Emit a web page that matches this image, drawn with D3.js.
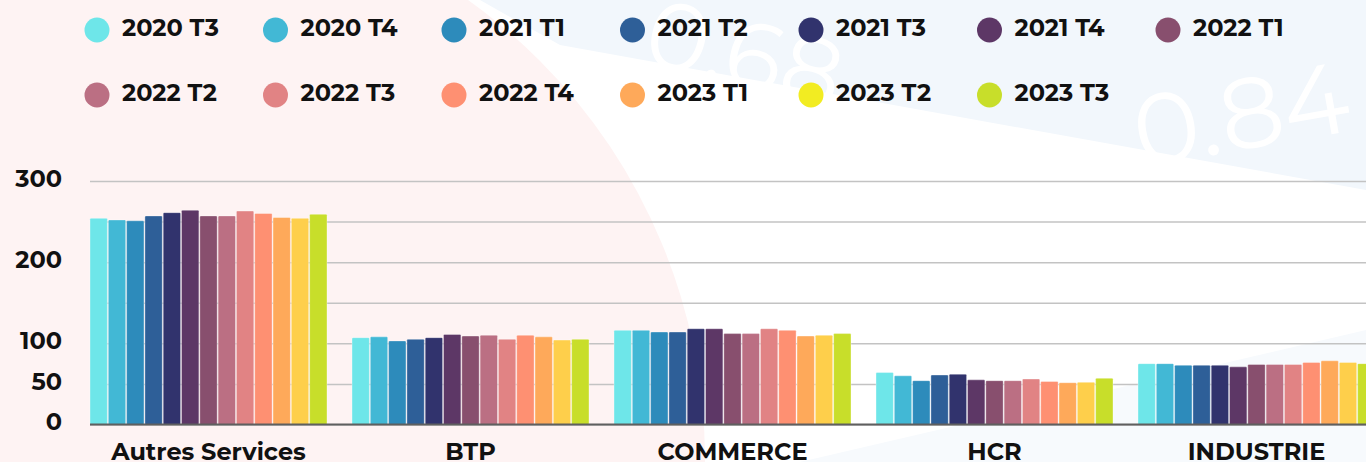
<!DOCTYPE html>
<html>
<head>
<meta charset="utf-8">
<script src="https://cdn.jsdelivr.net/npm/d3@7"></script>
<style>
  body { margin: 0; overflow: hidden; background: #fff; }
  text { font-family: Montserrat, "DejaVu Sans", sans-serif; font-weight: 700; fill: #111; }
</style>
</head>
<body>
<div id="chart"></div>
<script>
// data
var categories = ["Autres Services", "BTP", "COMMERCE", "HCR", "INDUSTRIE"];
var periods = ["2020 T3", "2020 T4", "2021 T1", "2021 T2", "2021 T3", "2021 T4", "2022 T1",
               "2022 T2", "2022 T3", "2022 T4", "2023 T1", "2023 T2", "2023 T3"];
var colors = ["#6ee6e9", "#42b8d5", "#2d8bbb", "#2e5f98", "#31336d", "#5d3766", "#884f6e",
              "#bb6f83", "#e18384", "#fe9072", "#fea95a", "#fecf4b", "#c8de2a"];
var legendColors = colors.slice();
legendColors[11] = "#f2ec22";

var autresServices = [254, 252, 251, 257, 261, 264, 257, 257, 263, 260, 255, 254, 259];
var btp            = [107, 108, 103, 105, 107, 111, 109, 110, 105, 110, 108, 104, 105];
var commerce       = [116, 116, 114, 114, 118, 118, 112, 112, 118, 116, 109, 110, 112];
var hcr            = [64, 60, 54, 61, 62, 55, 54, 54, 56, 53, 51.5, 52, 57];
var industrie      = [75, 75, 73, 73, 73, 71, 74, 74, 74, 76.5, 78.5, 76.5, 75];

var gridTicks = [0, 50, 100, 150, 200, 250, 300];
var yLabels = [0, 50, 100, 200, 300];

var seriesByCat = [autresServices, btp, commerce, hcr, industrie];

var svgWidth = 1366;
var svgHeight = 462;

var svg = d3.select("#chart")
    .append("svg")
    .attr("width", svgWidth)
    .attr("height", svgHeight);

// background decoration
svg.append("rect")
    .attr("width", svgWidth)
    .attr("height", svgHeight)
    .attr("fill", "#ffffff");

svg.append("polygon")
    .attr("points", "480,0 1366,0 1366,190 560,45")
    .attr("fill", "#f2f7fc");

svg.append("polygon")
    .attr("points", "800,462 1366,330 1366,462")
    .attr("fill", "#f7fafd");

svg.append("text")
    .attr("x", 640).attr("y", 62)
    .attr("font-size", 95)
    .style("font-weight", 400)
    .style("fill", "#ffffff")
    .attr("transform", "rotate(14,640,62)")
    .text("0.68");

svg.append("text")
    .attr("x", 1140).attr("y", 168)
    .attr("font-size", 100)
    .style("font-weight", 400)
    .style("fill", "#ffffff")
    .attr("transform", "rotate(-10,1140,168)")
    .text("0.84");

svg.append("circle")
    .attr("cx", 140)
    .attr("cy", 460)
    .attr("r", 565)
    .attr("fill", "#fef3f3");

// scales
var x0 = d3.scaleBand()
    .domain(categories)
    .range([77.5, 77.5 + 262 * categories.length])
    .paddingInner(0.0954)
    .paddingOuter(0.0477);

var x1 = d3.scaleBand()
    .domain(periods)
    .range([0, x0.bandwidth()])
    .paddingInner(0.05);

var y = d3.scaleLinear()
    .domain([0, 300])
    .range([424.5, 181]);

// grid lines
var grid = svg.append("g")
    .attr("transform", "translate(90,0)")
    .call(d3.axisLeft(y).tickValues(gridTicks).tickSize(-(svgWidth - 90)).tickFormat(""));
grid.select(".domain").remove();
grid.selectAll(".tick line")
    .attr("stroke", "#c3c3c3")
    .attr("stroke-width", 1.5);

// y labels
var yAxis = svg.append("g")
    .attr("transform", "translate(62,0)")
    .call(d3.axisLeft(y).tickValues(yLabels).tickSize(0).tickPadding(0));
yAxis.select(".domain").remove();
yAxis.selectAll("text")
    .attr("font-size", 24)
    .attr("dy", "0.3em")
    .attr("transform", "translate(0,-2)");

// bars
var groups = svg.append("g")
    .selectAll("g")
    .data(categories)
    .enter()
    .append("g")
    .attr("transform", d => `translate(${x0(d)},0)`);

groups.selectAll("rect")
    .data((d, i) => seriesByCat[i].map((v, j) => ({ period: periods[j], value: v, color: colors[j] })))
    .enter()
    .append("rect")
    .attr("x", d => x1(d.period))
    .attr("y", d => y(d.value))
    .attr("width", x1.bandwidth())
    .attr("height", d => y(0) - y(d.value))
    .attr("rx", 1)
    .attr("fill", d => d.color)
    .attr("stroke", "rgba(255,255,255,0.45)")
    .attr("stroke-width", 0.8);

// baseline
svg.append("line")
    .attr("x1", 90)
    .attr("x2", svgWidth)
    .attr("y1", y(0))
    .attr("y2", y(0))
    .attr("stroke", "#5f5f5f")
    .attr("stroke-width", 2);

// category labels
var xAxis = svg.append("g")
    .attr("transform", `translate(0,${y(0)})`)
    .call(d3.axisBottom(x0).tickSize(0).tickPadding(0));
xAxis.select(".domain").remove();
xAxis.selectAll("text")
    .attr("font-size", 24)
    .attr("y", 35)
    .attr("dy", 0);

// legend
var legCol = d3.scaleLinear().domain([0, 6]).range([97, 1168]);
var legRow = d3.scaleLinear().domain([0, 1]).range([30, 95]);

var legend = svg.append("g")
    .selectAll("g")
    .data(periods)
    .enter()
    .append("g")
    .attr("transform", (d, i) => `translate(${legCol(i % 7)},${legRow(Math.floor(i / 7))})`);

legend.append("circle")
    .attr("r", 12.5)
    .attr("fill", (d, i) => legendColors[i]);

legend.append("text")
    .attr("x", 25)
    .attr("y", -3)
    .attr("dy", "0.36em")
    .attr("font-size", 24)
    .text(d => d);
</script>
</body>
</html>
